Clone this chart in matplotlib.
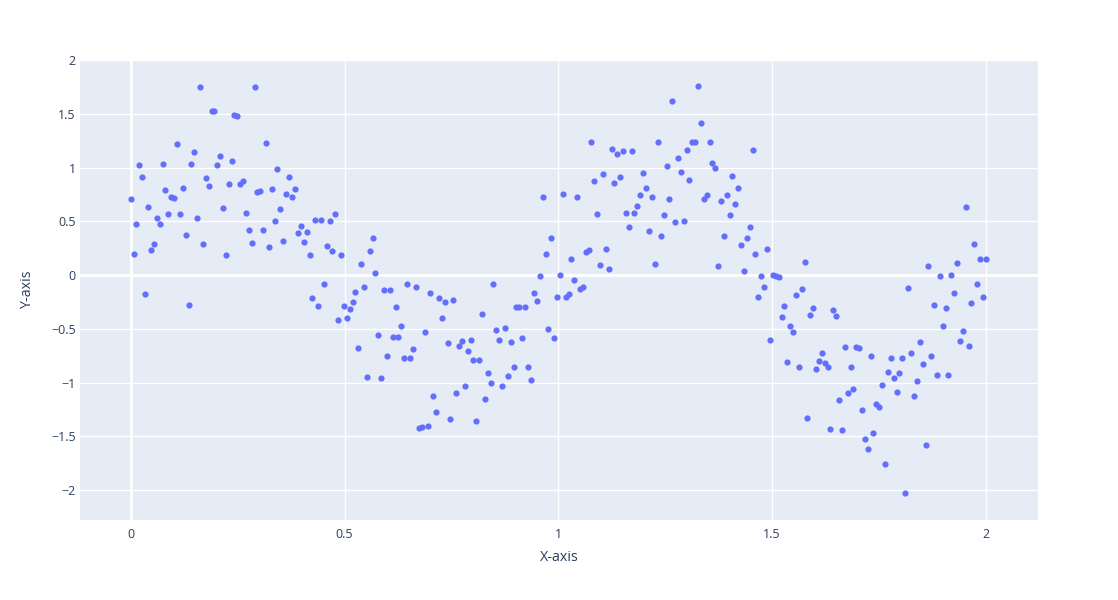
import matplotlib
matplotlib.use("Agg")
import matplotlib.pyplot as plt
from matplotlib.ticker import FuncFormatter

plt.rcParams['font.family'] = ['Open Sans', 'DejaVu Sans']

# x positions of the samples (evenly spread from 0 to 2)
x_vals = [
    0.000, 0.007, 0.013, 0.020, 0.027, 0.034, 0.040, 0.047, 0.054, 0.061,
    0.067, 0.074, 0.081, 0.088, 0.094, 0.101, 0.108, 0.114, 0.121, 0.128,
    0.135, 0.141, 0.148, 0.155, 0.162, 0.168, 0.175, 0.182, 0.189, 0.195,
    0.202, 0.209, 0.215, 0.222, 0.229, 0.236, 0.242, 0.249, 0.256, 0.263,
    0.269, 0.276, 0.283, 0.290, 0.296, 0.303, 0.310, 0.316, 0.323, 0.330,
    0.337, 0.343, 0.350, 0.357, 0.364, 0.370, 0.377, 0.384, 0.391, 0.397,
    0.404, 0.411, 0.418, 0.424, 0.431, 0.438, 0.444, 0.451, 0.458, 0.465,
    0.471, 0.478, 0.485, 0.492, 0.498, 0.505, 0.512, 0.519, 0.525, 0.532,
    0.539, 0.545, 0.552, 0.559, 0.566, 0.572, 0.579, 0.586, 0.593, 0.599,
    0.606, 0.613, 0.620, 0.626, 0.633, 0.640, 0.646, 0.653, 0.660, 0.667,
    0.673, 0.680, 0.687, 0.694, 0.700, 0.707, 0.714, 0.721, 0.727, 0.734,
    0.741, 0.747, 0.754, 0.761, 0.768, 0.774, 0.781, 0.788, 0.795, 0.801,
    0.808, 0.815, 0.822, 0.828, 0.835, 0.842, 0.848, 0.855, 0.862, 0.869,
    0.875, 0.882, 0.889, 0.896, 0.902, 0.909, 0.916, 0.923, 0.929, 0.936,
    0.943, 0.949, 0.956, 0.963, 0.970, 0.976, 0.983, 0.990, 0.997, 1.003,
    1.010, 1.017, 1.024, 1.030, 1.037, 1.044, 1.051, 1.057, 1.064, 1.071,
    1.077, 1.084, 1.091, 1.098, 1.104, 1.111, 1.118, 1.125, 1.131, 1.138,
    1.145, 1.152, 1.158, 1.165, 1.172, 1.178, 1.185, 1.192, 1.199, 1.205,
    1.212, 1.219, 1.226, 1.232, 1.239, 1.246, 1.253, 1.259, 1.266, 1.273,
    1.279, 1.286, 1.293, 1.300, 1.306, 1.313, 1.320, 1.327, 1.333, 1.340,
    1.347, 1.354, 1.360, 1.367, 1.374, 1.381, 1.387, 1.394, 1.401, 1.407,
    1.414, 1.421, 1.428, 1.434, 1.441, 1.448, 1.455, 1.461, 1.468, 1.475,
    1.481, 1.488, 1.495, 1.502, 1.508, 1.515, 1.522, 1.529, 1.535, 1.542,
    1.549, 1.556, 1.562, 1.569, 1.576, 1.582, 1.589, 1.596, 1.603, 1.609,
    1.616, 1.623, 1.630, 1.636, 1.643, 1.650, 1.657, 1.664, 1.670, 1.677,
    1.684, 1.690, 1.697, 1.704, 1.710, 1.717, 1.724, 1.731, 1.737, 1.744,
    1.751, 1.758, 1.764, 1.771, 1.778, 1.785, 1.791, 1.798, 1.805, 1.811,
    1.818, 1.825, 1.832, 1.838, 1.845, 1.852, 1.859, 1.865, 1.872, 1.879,
    1.886, 1.892, 1.899, 1.906, 1.912, 1.919, 1.926, 1.933, 1.939, 1.946,
    1.953, 1.960, 1.966, 1.973, 1.980, 1.987, 1.993, 2.000,
]

y_vals = [
    0.71, 0.20, 0.47, 1.02, 0.91, -0.18, 0.63, 0.23, 0.29, 0.53,
    0.47, 1.03, 0.79, 0.57, 0.73, 0.72, 1.22, 0.57, 0.81, 0.37,
    -0.28, 1.03, 1.14, 0.53, 1.75, 0.29, 0.90, 0.83, 1.53, 1.53,
    1.02, 1.11, 0.62, 0.19, 0.85, 1.06, 1.49, 1.48, 0.85, 0.87,
    0.58, 0.42, 0.30, 1.75, 0.77, 0.78, 0.42, 1.23, 0.26, 0.80,
    0.50, 0.99, 0.61, 0.32, 0.75, 0.91, 0.73, 0.80, 0.39, 0.46,
    0.31, 0.40, 0.19, -0.21, 0.51, -0.29, 0.51, -0.08, 0.27, 0.50,
    0.22, 0.57, -0.42, 0.19, -0.29, -0.40, -0.32, -0.25, -0.16, -0.68,
    0.10, -0.11, -0.95, 0.22, 0.34, 0.02, -0.56, -0.96, -0.14, -0.75,
    -0.14, -0.58, -0.30, -0.58, -0.47, -0.77, -0.08, -0.77, -0.69, -0.11,
    -1.42, -1.41, -0.53, -1.40, -0.17, -1.13, -1.27, -0.21, -0.40, -0.25,
    -0.63, -1.34, -0.23, -1.10, -0.66, -0.61, -1.03, -0.71, -0.60, -0.79,
    -1.36, -0.79, -0.36, -1.15, -0.91, -1.00, -0.08, -0.51, -0.60, -1.03,
    -0.49, -0.94, -0.62, -0.86, -0.30, -0.30, -0.59, -0.30, -0.86, -0.98,
    -0.17, -0.24, -0.01, 0.73, 0.20, -0.50, 0.34, -0.59, -0.20, 0.00,
    0.75, -0.20, -0.18, 0.15, -0.05, 0.73, -0.13, -0.11, 0.21, 0.23,
    1.24, 0.87, 0.57, 0.09, 0.94, 0.24, 0.06, 1.17, 0.86, 1.13,
    0.91, 1.15, 0.58, 0.45, 1.15, 0.58, 0.64, 0.74, 0.95, 0.81,
    0.41, 0.73, 0.10, 1.24, 0.36, 0.56, 1.01, 0.71, 1.62, 0.49,
    1.09, 0.96, 0.50, 1.16, 0.88, 1.24, 1.24, 1.76, 1.41, 0.71,
    0.74, 1.24, 1.04, 1.00, 0.08, 0.69, 0.36, 0.74, 0.56, 0.92,
    0.66, 0.81, 0.28, 0.04, 0.34, 0.45, 1.16, 0.20, -0.20, -0.01,
    -0.11, 0.24, -0.60, 0.00, -0.01, -0.02, -0.39, -0.29, -0.81, -0.47,
    -0.53, -0.19, -0.86, -0.13, 0.12, -1.33, -0.37, -0.31, -0.87, -0.80,
    -0.73, -0.82, -0.86, -1.43, -0.33, -0.38, -1.16, -1.44, -0.67, -1.10,
    -0.86, -1.06, -0.67, -0.68, -1.26, -1.53, -1.62, -0.75, -1.47, -1.20,
    -1.23, -1.02, -1.76, -0.90, -0.77, -0.96, -1.09, -0.91, -0.77, -2.03,
    -0.12, -0.73, -1.13, -0.99, -0.62, -0.83, -1.58, 0.08, -0.75, -0.28,
    -0.93, -0.01, -0.47, -0.31, -0.93, 0.00, -0.17, 0.11, -0.61, -0.52,
    0.63, -0.66, -0.26, 0.29, -0.08, 0.15, -0.20, 0.15,
]

x_ticks = [0, 0.5, 1, 1.5, 2]
y_ticks = [-2, -1.5, -1, -0.5, 0, 0.5, 1, 1.5, 2]

text_color = '#2a3f5f'

fig = plt.figure(figsize=(11.18, 6), dpi=100)
ax = fig.add_axes([80 / 1118, 80 / 600, 958 / 1118, 460 / 600])
ax.set_facecolor('#E5ECF6')

ax.scatter(x_vals, y_vals, s=20, color='#636EFA', linewidths=0, zorder=3)

ax.set_xlim(-0.119, 2.122)
ax.set_ylim(-2.279, 2.0)
ax.set_xticks(x_ticks)
ax.set_yticks(y_ticks)

fmt = FuncFormatter(lambda v, p: f'{v:g}'.replace('-', '\u2212'))
ax.xaxis.set_major_formatter(fmt)
ax.yaxis.set_major_formatter(fmt)

ax.grid(True, color='white', linewidth=1, zorder=1)
ax.set_axisbelow(True)
# plotly style zero lines
ax.axhline(0, color='white', linewidth=2, zorder=2)
ax.axvline(0, color='white', linewidth=2, zorder=2)

for s in ax.spines.values():
    s.set_visible(False)
ax.tick_params(length=0, labelsize=8.9, labelcolor=text_color)
ax.tick_params(axis='x', pad=6)
ax.tick_params(axis='y', pad=3)

ax.set_xlabel('X-axis', fontsize=10.3, color=text_color, labelpad=6)
ax.set_ylabel('Y-axis', fontsize=10.3, color=text_color, labelpad=12)

fig.savefig('out.png', dpi=100)
